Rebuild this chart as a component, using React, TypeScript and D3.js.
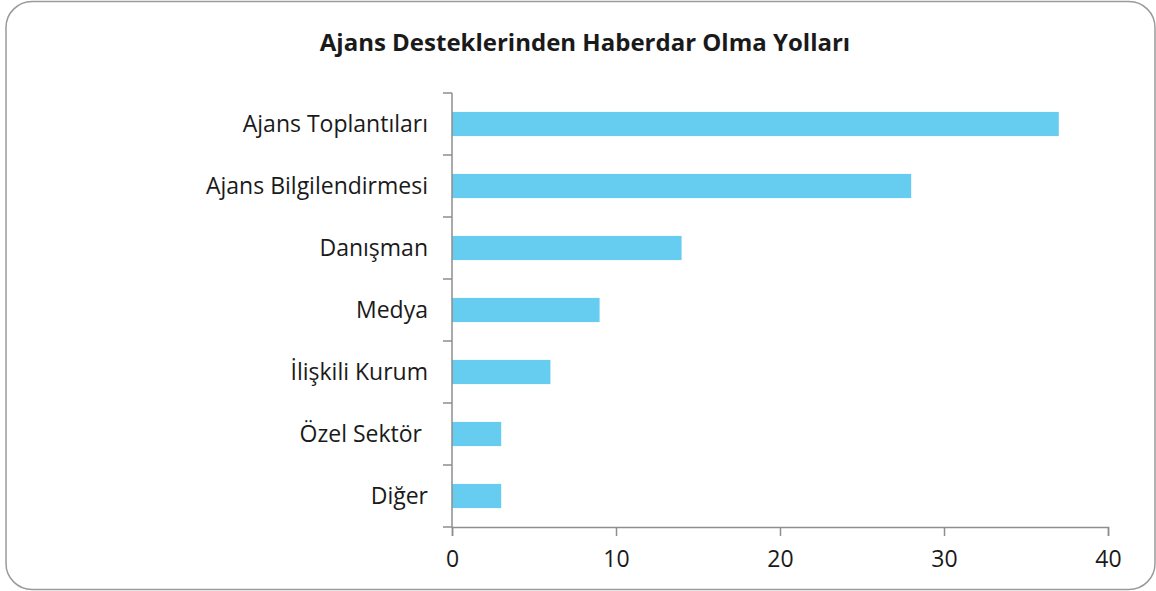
import { useEffect, useRef } from 'react';
import * as d3 from 'd3';

const title = 'Ajans Desteklerinden Haberdar Olma Yolları';
const categories = [
  'Ajans Toplantıları',
  'Ajans Bilgilendirmesi',
  'Danışman',
  'Medya',
  'İlişkili Kurum',
  'Özel Sektör ',
  'Diğer',
];
const values = [37, 28, 14, 9, 6, 3, 3];
const xTicks = [0, 10, 20, 30, 40];

const WIDTH = 1156;
const HEIGHT = 591;
const MARGIN = { top: 93, right: 48, bottom: 64, left: 452 };
const BAR_COLOR = '#66cdf0';
const AXIS_COLOR = '#8e8e8e';
const FONT = '"Open Sans", "Noto Sans", sans-serif';

export default function App() {
  const svgRef = useRef<SVGSVGElement>(null);

  useEffect(() => {
    document.body.style.margin = '0';
    if (!svgRef.current) return;

    const svg = d3.select(svgRef.current);
    svg.selectAll('*').remove();

    const innerWidth = WIDTH - MARGIN.left - MARGIN.right;
    const innerHeight = HEIGHT - MARGIN.top - MARGIN.bottom;

    // chart frame
    svg.append('rect')
      .attr('x', 6)
      .attr('y', 1.5)
      .attr('width', 1149)
      .attr('height', 588)
      .attr('rx', 26)
      .attr('fill', 'white')
      .attr('stroke', '#9a9a9a')
      .attr('stroke-width', 1.5);

    svg.append('text')
      .attr('x', 585)
      .attr('y', 51)
      .attr('text-anchor', 'middle')
      .style('font-family', FONT)
      .style('font-size', '24px')
      .style('font-weight', '700')
      .style('fill', '#1a1a1a')
      .text(title);

    const g = svg.append('g')
      .attr('transform', `translate(${MARGIN.left},${MARGIN.top})`);

    const x = d3.scaleLinear().domain([0, 40]).range([0, innerWidth]);
    const y = d3.scaleBand()
      .domain(categories)
      .range([0, innerHeight])
      .paddingInner(0.61)
      .paddingOuter(0.305);

    // bars
    g.selectAll('.bar')
      .data(values)
      .enter()
      .append('rect')
      .attr('class', 'bar')
      .attr('x', x(0))
      .attr('y', (_, i) => y(categories[i]) ?? 0)
      .attr('width', (d) => x(d) - x(0))
      .attr('height', y.bandwidth())
      .attr('fill', BAR_COLOR);

    // y axis: ticks on category boundaries
    const step = innerHeight / categories.length;
    g.append('line')
      .attr('x1', 0).attr('x2', 0)
      .attr('y1', 0).attr('y2', innerHeight)
      .attr('stroke', AXIS_COLOR)
      .attr('stroke-width', 1.5);
    g.selectAll('.ytick')
      .data(d3.range(categories.length + 1))
      .enter()
      .append('line')
      .attr('class', 'ytick')
      .attr('x1', -9).attr('x2', 0)
      .attr('y1', (i) => i * step)
      .attr('y2', (i) => i * step)
      .attr('stroke', AXIS_COLOR)
      .attr('stroke-width', 1.5);

    g.selectAll('.ylabel')
      .data(categories)
      .enter()
      .append('text')
      .attr('class', 'ylabel')
      .attr('x', -24)
      .attr('y', (d) => (y(d) ?? 0) + y.bandwidth() / 2)
      .attr('dy', '0.35em')
      .attr('text-anchor', 'end')
      .style('white-space', 'pre')
      .style('font-family', FONT)
      .style('font-size', '23px')
      .style('fill', '#1a1a1a')
      .text((d) => d);

    // x axis
    const xAxis = g.append('g')
      .attr('transform', `translate(0,${innerHeight})`)
      .call(d3.axisBottom(x).tickValues(xTicks).tickSize(9).tickPadding(15));
    xAxis.selectAll('line, path')
      .attr('stroke', AXIS_COLOR)
      .attr('stroke-width', 1.5);
    xAxis.selectAll('text')
      .style('font-family', FONT)
      .style('font-size', '23px')
      .style('fill', '#1a1a1a');
  }, []);

  return <svg ref={svgRef} width={WIDTH} height={HEIGHT} style={{ display: 'block' }} />;
}
